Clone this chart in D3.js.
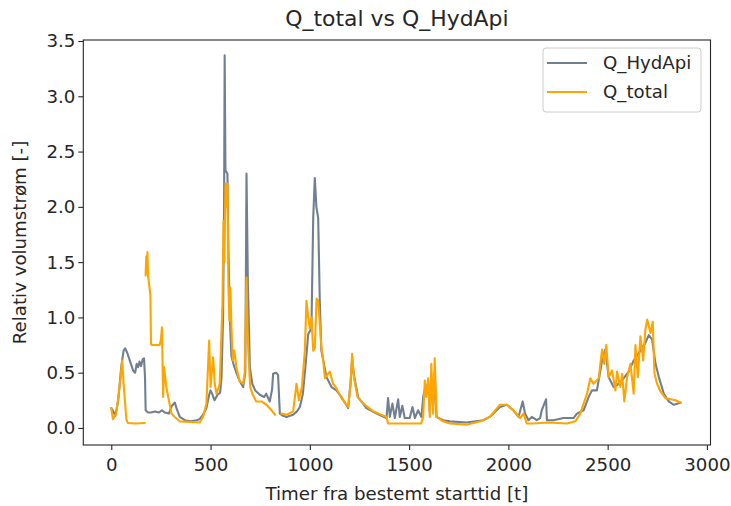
<!DOCTYPE html>
<html>
<head>
<meta charset="utf-8">
<script src="https://cdn.jsdelivr.net/npm/d3@7"></script>
<style>
  html, body { margin: 0; padding: 0; background: #fff; }
  svg { display: block; }
  text { font-family: "DejaVu Sans", sans-serif; fill: #262626; }
</style>
</head>
<body>
<div id="chart"></div>
<script>
// Hours since chosen start time and relative flow for each series.
const hydApiHours = [0,10,20,35,50,62,70,80,95,110,120,128,135,142,150,158,165,170,173,185,200,220,240,255,270,290,305,320,330,345,370,400,430,445,462,479,493,500,510,520,535,548,555,563,568,571,575,585,590,597,605,615,630,645,664,675,681,688,698,710,725,748,770,780,798,810,815,830,840,849,865,883,900,916,935,950,965,980,992,1008,1017,1025,1033,1042,1050,1058,1084,1109,1134,1159,1193,1205,1213,1222,1243,1285,1336,1386,1394,1403,1416,1428,1445,1453,1466,1478,1503,1517,1529,1545,1562,1571,1580,1596,1604,1612,1621,1629,1638,1671,1705,1789,1873,1906,1958,1992,2025,2051,2072,2084,2101,2118,2143,2160,2168,2190,2194,2227,2278,2328,2345,2379,2404,2421,2446,2472,2488,2505,2530,2556,2581,2606,2631,2665,2690,2707,2724,2741,2758,2783,2808,2833,2850,2867];
const hydApiFlow  = [0.18,0.15,0.11,0.25,0.55,0.70,0.72,0.68,0.60,0.52,0.50,0.58,0.55,0.60,0.56,0.62,0.63,0.45,0.16,0.14,0.14,0.15,0.14,0.16,0.14,0.13,0.20,0.23,0.17,0.10,0.07,0.06,0.07,0.08,0.12,0.18,0.30,0.34,0.30,0.25,0.30,0.32,0.45,1.00,2.00,3.37,2.33,2.30,1.60,1.00,0.65,0.58,0.50,0.43,0.37,0.50,2.30,1.30,0.55,0.40,0.34,0.30,0.28,0.31,0.24,0.35,0.49,0.50,0.48,0.13,0.11,0.10,0.11,0.12,0.15,0.19,0.31,0.60,0.85,0.90,1.90,2.26,2.00,1.90,1.16,0.70,0.46,0.37,0.34,0.28,0.18,0.40,0.62,0.48,0.28,0.18,0.13,0.09,0.27,0.10,0.22,0.09,0.26,0.10,0.20,0.09,0.09,0.19,0.09,0.16,0.10,0.28,0.35,0.40,0.15,0.45,0.20,0.50,0.10,0.07,0.06,0.05,0.07,0.10,0.19,0.21,0.16,0.10,0.24,0.13,0.07,0.10,0.07,0.09,0.16,0.26,0.07,0.07,0.09,0.09,0.13,0.16,0.28,0.34,0.34,0.61,0.71,0.46,0.37,0.40,0.45,0.51,0.61,0.70,0.77,0.84,0.80,0.58,0.46,0.31,0.24,0.21,0.22,0.23];

// null marks a gap in the record
const totalHours = [0,8,25,40,55,62,76,84,120,168,170,173,176,179,182,185,197,200,205,244,250,255,261,266,277,303,320,345,445,462,479,493,500,513,521,530,546,560,565,570,575,580,585,590,595,600,605,612,620,630,645,664,672,681,686,692,700,713,730,756,782,807,824,840,857,883,916,933,945,960,975,983,992,1000,1008,1017,1025,1034,1042,1050,1058,1067,1076,1100,1117,1134,1159,1193,1205,1213,1222,1240,1270,1320,1386,1394,1560,1571,1579,1587,1596,1604,1612,1621,1629,1638,1671,1705,1789,1860,1906,1958,1992,2025,2059,2076,2093,2126,2200,2295,2337,2362,2396,2413,2429,2455,2472,2483,2493,2505,2522,2539,2547,2564,2573,2584,2598,2615,2631,2640,2652,2665,2679,2690,2699,2716,2727,2736,2749,2766,2791,2817,2842,2867];
const totalFlow  = [0.18,0.08,0.13,0.35,0.61,0.40,0.075,0.045,0.04,0.045,null,1.38,1.55,1.40,1.59,1.38,1.20,0.76,0.75,0.75,0.80,0.91,0.28,0.55,0.37,0.13,0.10,0.06,0.05,0.10,0.22,0.79,0.37,0.64,0.40,0.31,0.40,1.12,1.87,1.50,2.21,2.00,2.21,1.27,0.97,1.27,0.91,0.61,0.70,0.55,0.43,0.40,0.50,1.36,0.90,0.61,0.37,0.30,0.24,0.24,0.21,0.16,0.12,null,0.13,0.12,0.15,0.40,0.25,0.37,0.70,1.15,1.00,0.90,1.00,0.70,0.72,1.17,1.15,0.95,0.73,0.62,0.45,0.51,0.40,0.36,0.27,0.19,0.40,0.67,0.46,0.28,0.22,0.15,0.10,0.04,0.04,0.10,0.43,0.28,0.45,0.10,0.58,0.13,0.63,0.10,0.06,0.04,0.03,0.06,0.10,0.21,0.21,0.16,0.09,0.13,0.04,0.04,0.05,0.04,0.06,0.13,0.31,0.45,0.40,0.45,0.71,0.58,0.75,0.46,0.52,0.34,0.51,0.37,0.49,0.24,0.46,0.58,0.31,0.75,0.46,0.83,0.61,0.89,0.98,0.86,0.96,0.49,0.40,0.33,0.27,0.26,0.25,0.23];

const xTicks = [0,500,1000,1500,2000,2500,3000];
const yTicks = [0.0,0.5,1.0,1.5,2.0,2.5,3.0,3.5];
const seriesNames = ["Q_HydApi","Q_total"];
const seriesColors = ["#708090","#FFA500"];

const W = 731, H = 506;
const plot = { left: 83.3, right: 710.5, top: 40, bottom: 445 };
const FONT = 17, WIDEN = 1.07;   // text is set slightly wide

const svg = d3.select("#chart").append("svg").attr("width", W).attr("height", H);

const x = d3.scaleLinear().domain([-141, 3018]).range([plot.left, plot.right]);
const y = d3.scaleLinear().domain([-0.154, 3.509]).range([plot.bottom, plot.top]);

// places a text at (px, py), widened horizontally
function label(parent, px, py, str, size, anchor, rotate) {
  return parent.append("text")
    .attr("transform", `translate(${px},${py})${rotate ? ` rotate(${rotate})` : ""} scale(${WIDEN},1)`)
    .attr("text-anchor", anchor || "start")
    .attr("font-size", size)
    .text(str);
}

// series
const line = d3.line()
  .defined(d => d[1] !== null)
  .x(d => x(d[0]))
  .y(d => y(d[1]));

const hydApi = hydApiHours.map((t, i) => [t, hydApiFlow[i]]);
const total = totalHours.map((t, i) => [t, totalFlow[i]]);

const lines = svg.append("g");
[hydApi, total].forEach((data, i) => {
  lines.append("path")
    .datum(data)
    .attr("fill", "none")
    .attr("stroke", seriesColors[i])
    .attr("stroke-width", 2.1)
    .attr("stroke-linejoin", "round")
    .attr("stroke-linecap", "square")
    .attr("d", line);
});

// axes
const xAxis = d3.axisBottom(x).tickValues(xTicks).tickSize(5).tickFormat(d3.format("d"));
const yAxis = d3.axisLeft(y).tickValues(yTicks).tickSize(5).tickFormat(d3.format(".1f"));

const gx = svg.append("g").attr("transform", `translate(0,${plot.bottom})`).call(xAxis);
const gy = svg.append("g").attr("transform", `translate(${plot.left},0)`).call(yAxis);
[gx, gy].forEach(g => {
  g.select(".domain").remove();
  g.selectAll(".tick line").attr("stroke", "#262626").attr("stroke-width", 1.1);
  g.selectAll(".tick text").attr("font-size", FONT).attr("font-family", "DejaVu Sans").attr("fill", "#262626");
});
gx.selectAll(".tick text").attr("y", null).attr("dy", null)
  .attr("transform", `translate(0,26) scale(${WIDEN},1)`);
gy.selectAll(".tick text").attr("x", null).attr("dy", null)
  .attr("transform", `translate(-8,6) scale(${WIDEN},1)`);

// frame
svg.append("rect")
  .attr("x", plot.left).attr("y", plot.top)
  .attr("width", plot.right - plot.left).attr("height", plot.bottom - plot.top)
  .attr("fill", "none").attr("stroke", "#262626").attr("stroke-width", 1.1);

// title and labels
const cx = (plot.left + plot.right) / 2;
label(svg, cx, 26, "Q_total vs Q_HydApi", 20.5, "middle");
label(svg, cx, 500, "Timer fra bestemt starttid [t]", FONT, "middle");
label(svg, 26, (plot.top + plot.bottom) / 2, "Relativ volumstrøm [-]", FONT, "middle", -90);

// legend
const lg = svg.append("g").attr("transform", "translate(543,48)");
lg.append("rect").attr("width", 158).attr("height", 64).attr("rx", 3)
  .attr("fill", "#fff").attr("fill-opacity", 0.8).attr("stroke", "#cccccc").attr("stroke-width", 1);
seriesNames.forEach((name, i) => {
  const yy = 15 + i * 29;
  lg.append("line").attr("x1", 4).attr("x2", 44).attr("y1", yy).attr("y2", yy)
    .attr("stroke", seriesColors[i]).attr("stroke-width", 2.1);
  label(lg, 60, yy + 6, name, FONT);
});
</script>
</body>
</html>
